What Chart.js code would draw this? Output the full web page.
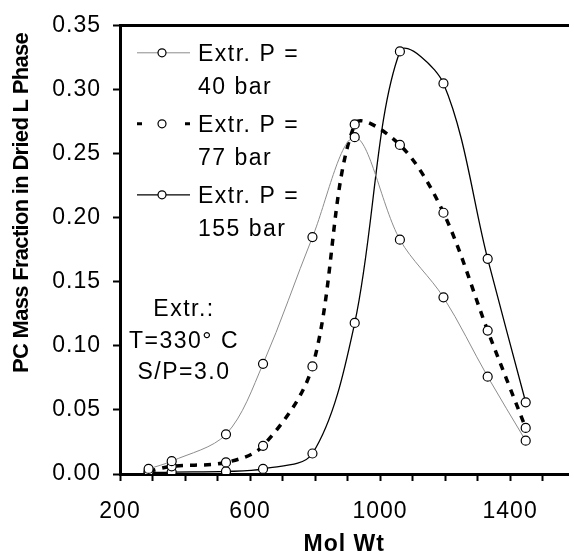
<!DOCTYPE html>
<html>
<head>
<meta charset="utf-8">
<script src="https://cdn.jsdelivr.net/npm/chart.js@4.4.1/dist/chart.umd.min.js"></script>
<style>
  html, body { margin: 0; padding: 0; background: #fff; }
  #wrap { width: 574px; height: 556px; }
</style>
</head>
<body>
<div id="wrap"><canvas id="chart"></canvas></div>
<script>
// values
var molWt = [288, 359, 526, 640, 792, 922, 1061, 1195, 1331, 1448];
var p40  = [0.004, 0.010, 0.031, 0.086, 0.185, 0.263, 0.183, 0.138, 0.076, 0.026];
var p77  = [0.002, 0.006, 0.009, 0.022, 0.084, 0.273, 0.257, 0.204, 0.112, 0.036];
var p155 = [0.001, 0.0015, 0.002, 0.004, 0.016, 0.118, 0.330, 0.305, 0.168, 0.056];
var seriesNames = [["Extr. P =", "40 bar"], ["Extr. P =", "77 bar"], ["Extr. P =", "155 bar"]];
var xMinorTicks = [200, 300, 400, 500, 600, 700, 800, 900, 1000, 1100, 1200, 1300, 1400, 1500];
var xTickLabels = [200, 600, 1000, 1400];
var yTickValues = [0, 0.05, 0.10, 0.15, 0.20, 0.25, 0.30, 0.35];
var noteLines = ["Extr.:", "T=330° C", "S/P=3.0"];
var xTitle = "Mol Wt";
var yTitle = "PC Mass Fraction in Dried L Phase";

var FONT = "'Liberation Sans', Arial, sans-serif";

function pts(ys) {
  return molWt.map(function (x, i) { return { x: x, y: ys[i] }; });
}

var datasets = [
  { label: seriesNames[0].join(' '), data: pts(p40), borderColor: '#8c8c8c', borderWidth: 1 },
  { label: seriesNames[1].join(' '), data: pts(p77), borderColor: '#000', borderWidth: 3.5, borderDash: [7, 7] },
  { label: seriesNames[2].join(' '), data: pts(p155), borderColor: '#000', borderWidth: 1.3 }
];
datasets.forEach(function (d) {
  d.tension = 0.33;
  d.pointRadius = 4.5;
  d.pointBorderWidth = 1.2;
  d.pointBackgroundColor = '#fff';
  d.pointBorderColor = '#000';
  d.fill = false;
});

// the original text is a bit wider than Arial, spread it a little
function spread(chart) { chart.ctx.letterSpacing = '1px'; }

// legend, note box and y title drawn by hand
var extras = {
  id: 'extras',
  beforeUpdate: spread,
  beforeLayout: spread,
  beforeDraw: spread,
  afterDraw: function (chart) {
    var ctx = chart.ctx, ca = chart.chartArea;
    ctx.save();
    ctx.letterSpacing = '1.5px';
    ctx.font = '23px ' + FONT;
    ctx.fillStyle = '#000';
    ctx.textBaseline = 'middle';
    chart.data.datasets.forEach(function (d, i) {
      var y0 = ca.top + 29 + i * 71;
      ctx.save();
      ctx.strokeStyle = d.borderColor;
      ctx.lineWidth = d.borderDash ? 3 : d.borderWidth;
      ctx.setLineDash(d.borderDash ? [5, 43] : []);
      ctx.beginPath();
      ctx.moveTo(ca.left + 17, y0 - 2);
      ctx.lineTo(ca.left + 70, y0 - 2);
      ctx.stroke();
      ctx.setLineDash([]);
      ctx.beginPath();
      ctx.arc(ca.left + 42, y0 - 2, 4, 0, Math.PI * 2);
      ctx.fillStyle = '#fff';
      ctx.fill();
      ctx.strokeStyle = '#000';
      ctx.lineWidth = 1.2;
      ctx.stroke();
      ctx.restore();
      ctx.textAlign = 'left';
      ctx.fillText(seriesNames[i][0], ca.left + 78, y0);
      ctx.fillText(seriesNames[i][1], ca.left + 78, y0 + 33);
    });

    ctx.textAlign = 'center';
    noteLines.forEach(function (t, i) {
      ctx.fillText(t, ca.left + 64, ca.top + 284 + i * 31.5);
    });

    ctx.letterSpacing = '-0.7px';
    ctx.font = 'bold 22px ' + FONT;
    ctx.translate(22, 203);
    ctx.rotate(-Math.PI / 2);
    ctx.fillText(yTitle, 0, 0);
    ctx.restore();
  }
};

new Chart(document.getElementById('chart'), {
  type: 'line',
  data: { datasets: datasets },
  options: {
    responsive: true,
    maintainAspectRatio: false,
    animation: false,
    layout: { padding: 0 },
    plugins: { legend: { display: false }, tooltip: { enabled: false } },
    scales: {
      x: {
        type: 'linear',
        position: 'bottom',
        min: 200,
        max: 1579,
        afterBuildTicks: function (s) { s.ticks = xMinorTicks.map(function (v) { return { value: v }; }); },
        afterFit: function (s) { s.height = 82; },
        ticks: {
          autoSkip: false,
          maxRotation: 0,
          padding: 17,
          color: '#000',
          font: { family: FONT, size: 23 },
          callback: function (v) { return xTickLabels.indexOf(v) >= 0 ? String(v) : ''; }
        },
        grid: { drawOnChartArea: false, drawTicks: true, tickLength: 7, tickWidth: 2, tickColor: '#000' },
        border: { display: true, color: '#000', width: 3 },
        title: { display: true, text: xTitle, color: '#000', padding: 0, font: { family: FONT, size: 23, weight: 'bold', lineHeight: 1 } }
      },
      xTop: {
        type: 'linear',
        position: 'top',
        min: 200,
        max: 1579,
        afterFit: function (s) { s.height = 21; },
        ticks: { display: false },
        grid: { display: false, drawTicks: false },
        border: { display: true, color: '#000', width: 3 }
      },
      y: {
        min: 0,
        max: 0.35,
        afterBuildTicks: function (s) { s.ticks = yTickValues.map(function (v) { return { value: v }; }); },
        afterFit: function (s) { s.width = 120; },
        ticks: {
          padding: 12,
          color: '#000',
          font: { family: FONT, size: 23 },
          callback: function (v) { return v.toFixed(2); }
        },
        grid: { drawOnChartArea: false, drawTicks: true, tickLength: 7, tickWidth: 2, tickColor: '#000' },
        border: { display: true, color: '#000', width: 3 }
      }
    }
  },
  plugins: [extras]
});
</script>
</body>
</html>
